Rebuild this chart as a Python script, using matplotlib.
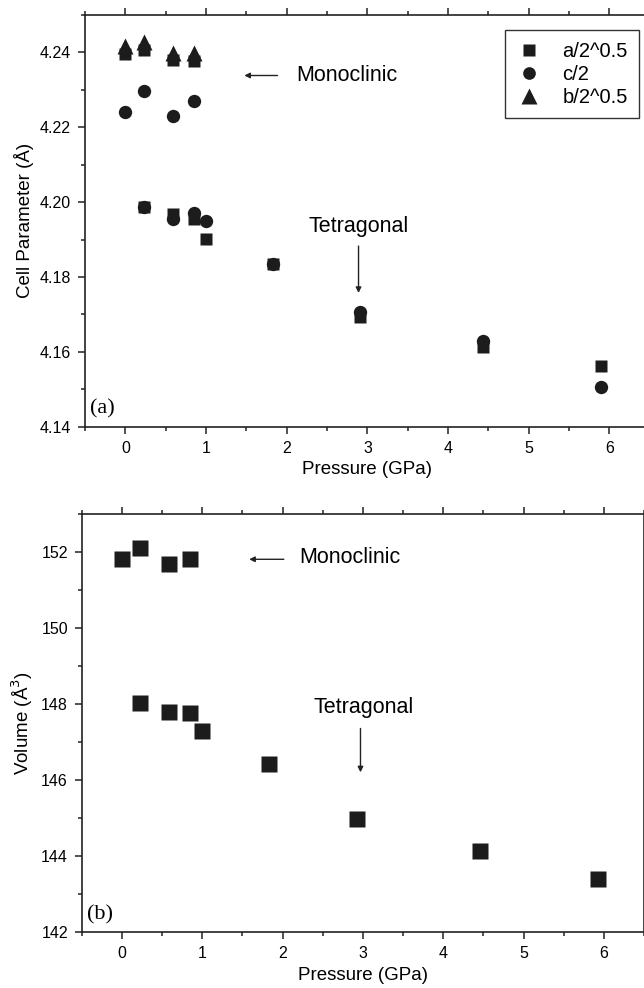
import matplotlib
matplotlib.use("Agg")
import matplotlib.pyplot as plt
from matplotlib.ticker import MultipleLocator

plt.rcParams['font.family'] = ['Liberation Sans', 'DejaVu Sans']

# panel (a): cell parameters vs pressure
p_a = [0.0, 0.227, 0.586, 0.846, 0.227, 0.586, 0.846, 1.0, 1.825, 2.91, 4.43, 5.90]
a_val = [4.2396, 4.2406, 4.2380, 4.2378, 4.1987, 4.1969, 4.1956, 4.1902, 4.1836, 4.1692, 4.1612, 4.1562]
p_c = [0.0, 0.227, 0.586, 0.846, 0.227, 0.586, 0.846, 1.0, 1.825, 2.91, 4.43, 5.90]
c_val = [4.2240, 4.2296, 4.2231, 4.2269, 4.1988, 4.1956, 4.1972, 4.1949, 4.1836, 4.1707, 4.1629, 4.1507]
p_b = [0.0, 0.227, 0.586, 0.846]
b_val = [4.2416, 4.2427, 4.2399, 4.2397]

# panel (b): volume vs pressure
p_v = [0.0, 0.22, 0.585, 0.843, 0.22, 0.585, 0.843, 0.997, 1.83, 2.93, 4.46, 5.93]
vol = [151.83, 152.12, 151.69, 151.83, 148.05, 147.80, 147.77, 147.31, 146.43, 144.98, 144.14, 143.40]

mk = '#1c1c1c'
fig = plt.figure(figsize=(6.44, 9.88), dpi=100)
ax1 = fig.add_axes([0.132, 0.568, 0.877, 0.417])
ax2 = fig.add_axes([0.127, 0.0563, 0.873, 0.423])


def style(ax):
    for s in ax.spines.values():
        s.set_linewidth(1.2)
        s.set_color('#222222')
    ax.xaxis.set_major_locator(MultipleLocator(1))
    ax.xaxis.set_minor_locator(MultipleLocator(0.5))
    ax.tick_params(which='both', direction='out', labelsize=11.5, color='#222222', width=1.1, pad=5)
    ax.tick_params(which='major', length=5)
    ax.tick_params(which='minor', length=3)
    ax.tick_params(axis='x', which='both', top=True, labeltop=False)
    ax.set_xlim(-0.5, 6.5)
    ax.set_xlabel('Pressure (GPa)', fontsize=13.5, labelpad=4)


ax1.plot(p_b, b_val, '^', color=mk, ms=12, mec='none', label='b/2^0.5', zorder=3)
ax1.plot(p_a, a_val, 's', color=mk, ms=8.7, mec='none', label='a/2^0.5', zorder=3)
ax1.plot(p_c, c_val, 'o', color=mk, ms=9.6, mec='none', label='c/2', zorder=3)
style(ax1)
ax1.set_ylim(4.14, 4.25)
ax1.yaxis.set_major_locator(MultipleLocator(0.02))
ax1.yaxis.set_minor_locator(MultipleLocator(0.01))
ax1.yaxis.set_major_formatter(plt.FormatStrFormatter('%.2f'))
ax1.set_ylabel('Cell Parameter (Å)', fontsize=13.5)
h, l = ax1.get_legend_handles_labels()
order = [1, 2, 0]
ax1.legend([h[i] for i in order], [l[i] for i in order], loc='upper right',
           bbox_to_anchor=(0.981, 0.962), fontsize=14.5, fancybox=False,
           edgecolor='#333333', framealpha=1, handletextpad=1.0, borderpad=0.55,
           labelspacing=0.2, handlelength=1.3, borderaxespad=0, markerscale=0.95)
ax1.annotate('', xy=(1.44, 4.2338), xytext=(1.92, 4.2338),
             arrowprops=dict(arrowstyle='-|>', color='#222222', lw=1, mutation_scale=8))
ax1.text(2.12, 4.2338, 'Monoclinic', fontsize=15.5, va='center')
ax1.text(2.89, 4.1935, 'Tetragonal', fontsize=15.5, ha='center', va='center')
ax1.annotate('', xy=(2.89, 4.175), xytext=(2.89, 4.189),
             arrowprops=dict(arrowstyle='-|>', color='#222222', lw=1, mutation_scale=8))
ax1.text(-0.44, 4.1435, '(a)', fontsize=16, family='Liberation Serif')

ax2.plot(p_v, vol, 's', color=mk, ms=11, mec='none', zorder=3)
style(ax2)
ax2.set_ylim(142, 153)
ax2.yaxis.set_major_locator(MultipleLocator(2))
ax2.yaxis.set_minor_locator(MultipleLocator(1))
ax2.set_ylabel('Volume (Å$^3$)', fontsize=13.5)
ax2.annotate('', xy=(1.55, 151.82), xytext=(2.05, 151.82),
             arrowprops=dict(arrowstyle='-|>', color='#222222', lw=1, mutation_scale=8))
ax2.text(2.21, 151.86, 'Monoclinic', fontsize=15.5, va='center')
ax2.text(3.01, 147.92, 'Tetragonal', fontsize=15.5, ha='center', va='center')
ax2.annotate('', xy=(2.97, 146.14), xytext=(2.97, 147.44),
             arrowprops=dict(arrowstyle='-|>', color='#222222', lw=1, mutation_scale=8))
ax2.text(-0.44, 142.35, '(b)', fontsize=16, family='Liberation Serif')

fig.savefig('out.png', dpi=100)
